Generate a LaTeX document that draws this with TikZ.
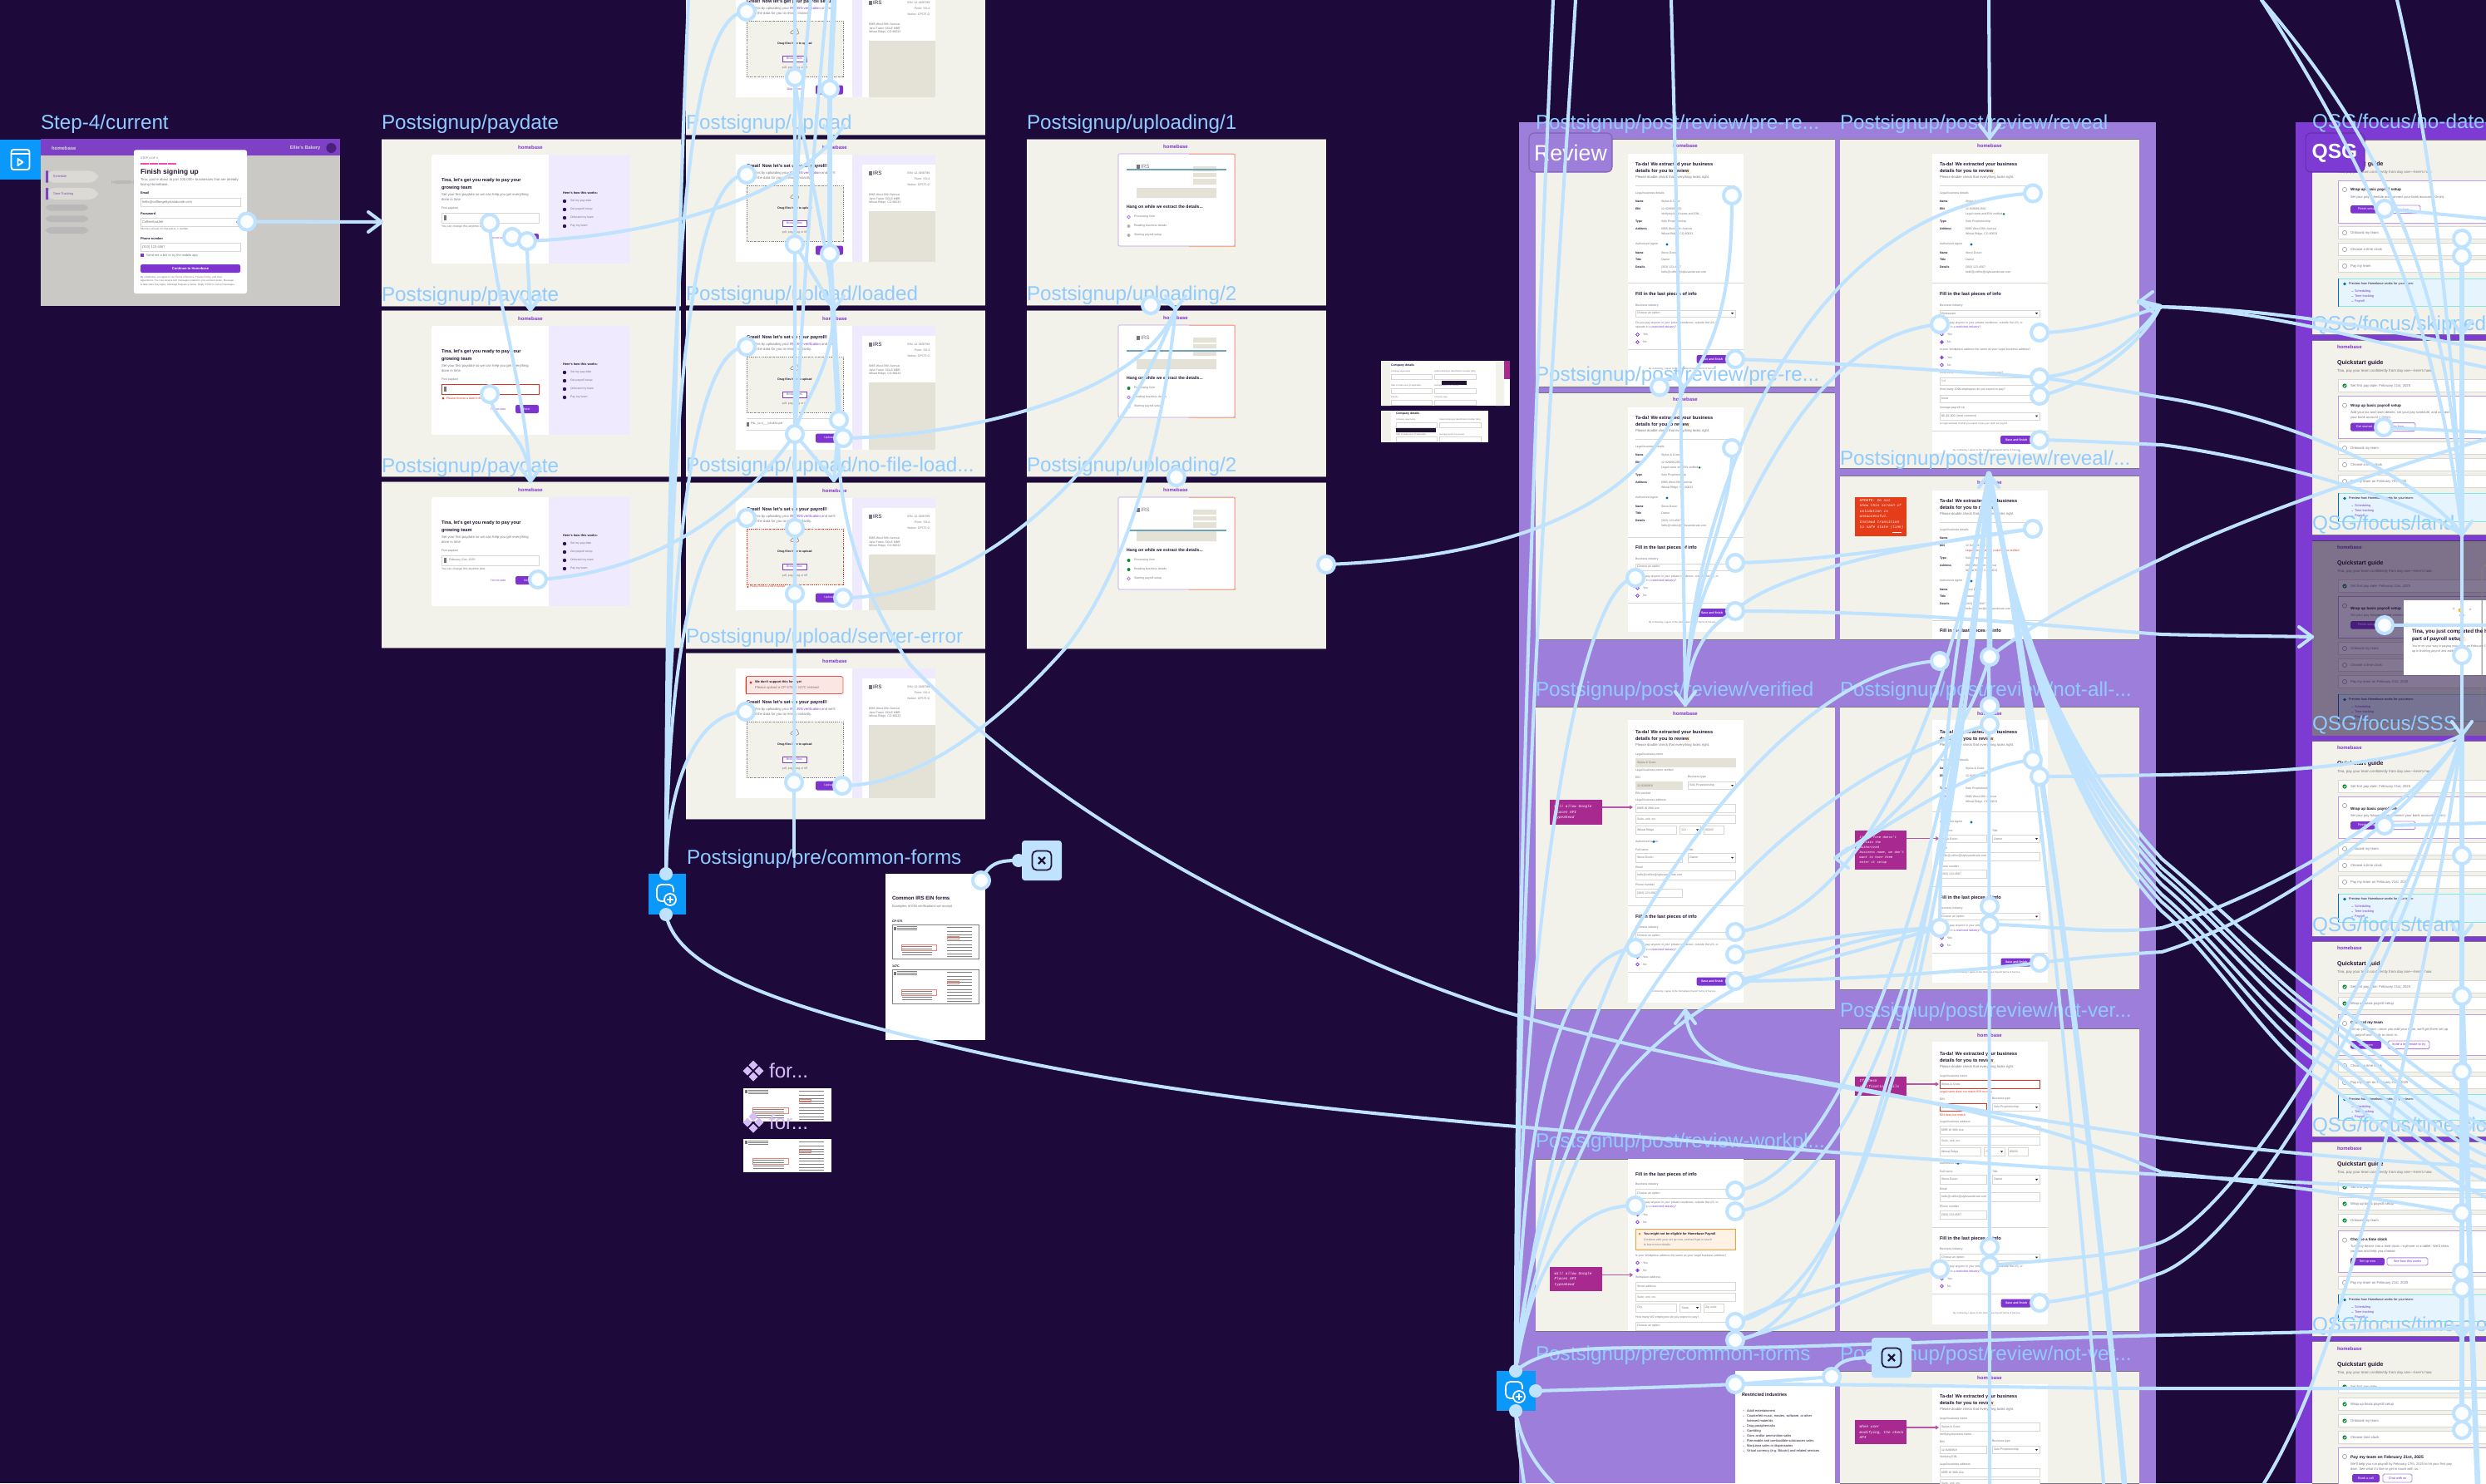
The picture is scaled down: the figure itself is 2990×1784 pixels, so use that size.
\documentclass[tikz,border=0pt]{standalone}
\usepackage{fontspec}
\setmainfont{Liberation Sans}
\newfontfamily\emofont{Noto Emoji}
\newfontfamily\hand{Liberation Mono}
\definecolor{bgd}{HTML}{1D0A3B}
\definecolor{frm}{HTML}{F2F1EA}
\definecolor{conn}{HTML}{BFE3FF}
\definecolor{lbl}{HTML}{8FCBFF}
\definecolor{rev}{HTML}{9D7EDB}
\definecolor{qsg}{HTML}{7E3BD3}
\definecolor{pur}{HTML}{7E35D0}
\definecolor{lav}{HTML}{EFEAFD}
\definecolor{tan}{HTML}{E4E2D6}
\definecolor{ink}{HTML}{221433}
\definecolor{gry}{HTML}{77747F}
\definecolor{lin}{HTML}{D8D7D2}
\definecolor{grn}{HTML}{0B8A2C}
\definecolor{redd}{HTML}{E0301E}
\definecolor{mag}{HTML}{A82A90}
\definecolor{blu}{HTML}{0A99FA}
\definecolor{lil}{HTML}{D6BDF7}
\definecolor{inf}{HTML}{E5F4FD}
\newcommand\fz[1]{\fontsize{#1pt}{#1pt}\selectfont}
\newcommand\dts{.{}.{}.}
\newcommand\fL{\fz{6.9}}
\newcommand\fH{\fz{1.6}\bfseries}
\newcommand\fB{\fz{1.2}}
\newcommand\fS{\fz{1.0}}
\newcommand\fN{\hand\itshape\fontsize{1.25pt}{1.85pt}\selectfont}
\tikzset{
  tx/.style={anchor=west,inner sep=0pt,outer sep=0pt},
  flabel/.style={anchor=west,inner sep=0pt,outer sep=0pt,text=lbl,font=\fL,yshift=-0.02cm},
  conline/.style={draw=conn,line width=1.15pt,line cap=round,line join=round},
  conthick/.style={draw=conn,line width=1.9pt,line cap=round,line join=round},
  hub/.style={circle,draw=conn,fill=white!93!conn,line width=1.15pt,minimum size=0.2cm,inner sep=0pt},
  handle/.style={circle,fill=conn,minimum size=0.16cm,inner sep=0pt},
  notearrow/.style={draw=mag!80!white,line width=0.3pt}
}
\newcommand\Tx[5]{\node[tx,text=#4,font=#3] at ({#1},{#2}) {#5};}
\newcommand\Tc[5]{\node[inner sep=0pt,text=#4,font=#3] at ({#1},{#2}) {#5};}
\newcommand\Emo[3]{\node[inner sep=0pt,text=#3!80!yellow,font=\emofont\fz{1.4}] at (#1,#2) {\char"1F4AA};}
\newcommand\Rule[3]{\draw[lin,line width=0.12pt] (#1,#3) -- (#2,#3);}
\newcommand\Fld[6]{\draw[draw=#6,fill=#5,line width=0.15pt] (#1,#2) rectangle (#3,#4);}
\newcommand\Sel[5]{\Fld{#1}{#2}{#3}{#4}{white}{lin}\Tx{#1+2}{(#2+#4)/2}{\fS}{gry}{#5}\fill[ink] ({#3-5},{(#2+#4)/2-0.8}) -- ++(3,0) -- ++(-1.5,1.8) -- cycle;}
\newcommand\Frm[4]{\fill[frm] (#1,#2) rectangle ++(#3,#4);\draw[gry,line width=0.2pt] (#1,#2) -- ++(#3,0) (#1,{#2+#4}) -- ++(#3,0);}
\newcommand\Logo[2]{\Tc{#1}{#2}{\fz{1.7}\bfseries}{pur}{homebase}}
\newcommand\Rad[3]{\draw[pur,line width=0.2pt] (122.5,#1) circle (1.9);#3\Tx{129}{#1}{\fS}{gry}{#2}}
% ---------- paydate screen
\newcommand\payscr[5]{\begin{scope}[shift={(#1,#2)}]
 \Logo{179}{10}
 \fill[white,rounded corners=0.5pt] (60,19) rectangle (299,150);
 \fill[lav] (201,19) rectangle (299,150);
 \Tx{72}{50}{\fH}{ink}{Tina, let's get you ready to pay your}
 \Tx{72}{59}{\fH}{ink}{growing team}
 \Tx{72}{67}{\fB}{gry}{Set your first paydate so we can help you get everything}
 \Tx{72}{73}{\fB}{gry}{done in time}
 \Tx{72}{84}{\fS}{gry}{First paydate}
 \Fld{72}{89}{189}{101}{white}{#3}
 \fill[gry] (75,92) rectangle (78,98);
 \Tx{81}{95}{\fS}{gry}{#4}
 #5
 \Tx{131}{119}{\fS}{pur}{I'm not sure}
 \fill[pur,rounded corners=0.6pt] (161,114) rectangle (189,124);
 \Tx{171}{119}{\fS}{white}{Next}
 \Tx{218}{65}{\fz{1.1}\bfseries}{ink}{Here's how this works:}
 \foreach \yy/\tz in {75/Set my pay date,85/Get payroll setup,95/Onboard my team,105/Pay my team}{
  \fill[bgd!80!pur] (220,\yy) circle (2.2);
  \Tx{227}{\yy}{\fS}{gry}{\tz}}
\end{scope}}
% ---------- upload screen
\newcommand\uplscr[8]{\begin{scope}[shift={(#1,#2)}]
 \begin{scope}\clip (0,0) rectangle (360,210);
 \Logo{179}{10}
 \fill[white] (60,19) rectangle (300,#4);
 \fill[lav] (200,19) rectangle (300,#4);
 \fill[white] (212,31) rectangle (300,#4);
 \fill[gry] (220,38.5) rectangle (224,43.5);
 \Tx{225}{41}{\fz{1.8}}{ink}{IRS}
 \node[anchor=east,inner sep=0,text=gry,font=\fS] at (294,41) {EIN: 12-3456789};
 \node[anchor=east,inner sep=0,text=gry,font=\fS] at (294,48) {Form: SS-4};
 \node[anchor=east,inner sep=0,text=gry,font=\fS] at (294,55) {Notice: CP575 G};
 \Tx{220}{67}{\fS}{gry}{6985 West 38th Avenue}
 \Tx{220}{72}{\fS}{gry}{Jane Foster SOLE MBR}
 \Tx{220}{77}{\fS}{gry}{Wheat Ridge, CO 80033}
 \fill[tan] (220,87) rectangle (300,#4);
 \Tx{73}{33+#3}{\fH}{ink}{#7}
 \Tx{73}{41+#3}{\fB}{gry}{Start this by uploading your {\color{pur}IRS EIN verification} and we'll}
 \Tx{73}{47+#3}{\fB}{gry}{pull all the data for you to review instantly.}
 \draw[#6,dash pattern=on 0.4pt off 0.3pt,line width=0.15pt,fill=frm] (73,{56+#3}) rectangle (189,{123+#3});
 \node[inner sep=0,text=ink,font=\emofont\fz{2.6}] at (131,{69+#3}) {\char"2601};
 \Tc{131}{84+#3}{\fz{1.0}\bfseries}{ink}{Drag files here to upload}
 \draw[pur,line width=0.2pt,fill=white] (116,{98+#3}) rectangle (145,{105+#3});
 \Tc{130.5}{101.5+#3}{\fS}{pur}{Browse files}
 \Tc{131}{113+#3}{\fS}{gry}{pdf, png, jpeg or tiff}
 \Tc{131}{#5}{\fS}{pur}{Skip for now}
 \fill[pur,rounded corners=0.6pt] (156,{#5-5.5}) rectangle (189,{#5+5.5});
 \Tc{172}{#5}{\fS}{white}{Upload}
 #8
 \end{scope}
\end{scope}}
% ---------- uploading screen
\newcommand\loadscr[4]{\begin{scope}[shift={(#1,#2)}]
 \Logo{179}{9}
 \draw[draw=pur!50!white,line width=0.17pt,fill=white,rounded corners=0.4pt] (110,18) rectangle (250,129);
 \draw[orange!35!pink,line width=0.17pt] (195,18) -- (250,18) -- (250,129) -- (195,129);
 \fill[gry] (132,31) rectangle (136,36);
 \Tx{137}{33.5}{\fz{1.8}}{gry}{IRS}
 \fill[tan] (200,33) rectangle (228,39) (200,41) rectangle (228,46) (200,48) rectangle (228,55) (132,59) rectangle (228,71);
 \draw[cyan!40!gray,line width=0.3pt] (120,#3) -- (240,#3);
 \Tx{120}{82}{\fz{1.45}\bfseries}{ink}{Hang on while we extract the details...}
 #4
 \Tx{129}{94}{\fS}{gry}{Processing form}
 \Tx{129}{105}{\fS}{gry}{Reading business details}
 \Tx{129}{116}{\fS}{gry}{Starting payroll setup}
\end{scope}}
\newcommand\Gc[1]{\fill[grn] (122.5,#1) circle (2);}
\newcommand\Rc[1]{\draw[pur!70!white,line width=0.2pt] (122.5,#1) circle (1.8);}
\newcommand\Gy[1]{\fill[gray!60] (122.5,#1) circle (2);}
% ---------- review
\newcommand\revhead{
 \Logo{180}{8.6}
 \Tx{120}{31}{\fH}{ink}{Ta-da! We extracted your business}
 \Tx{120}{39.5}{\fH}{ink}{details for you to review}
 \Emo{184}{39.5}{orange}
 \Tx{120}{46.5}{\fB}{gry}{Please double check that everything looks right.}
}
\newcommand\revdisp[2]{
 \Rule{120}{240}{56}
 \Tx{120}{65.5}{\fS}{gry}{Legal business details}
 \foreach \yy/\kk/\vv in {75.6/Name/Stylus \& Crate,84/EIN/12-9280912832,99.5/Type/Sole Proprietorship,108.6/Address/6985 West 38th Avenue,137/Name/Steve Doran,145.4/Title/Owner,154.5/Details/(303) 123-4567}{
  \Tx{120}{\yy}{\fz{1.0}\bfseries}{ink}{\kk}\Tx{151}{\yy}{\fS}{gry}{\vv}}
 \Tx{151}{90.4}{\fS}{#2}{#1}
 \Tx{151}{115}{\fS}{gry}{Wheat Ridge, CO 80033}
 \Tx{151}{161}{\fS}{gry}{hello@coffee@stylusandcrate.com}
 \Tx{120}{127}{\fS}{gry}{Authorized signer}
 \fill[blu!70!black] (158,127) circle (1.6);
 \Rule{111}{250}{173.7}
}
\newcommand\revlower[2]{\begin{scope}[yshift={#1*(-0.01cm)}]
 \Tx{120}{187.5}{\fH}{ink}{Fill in the last pieces of info}
 \Tx{120}{200.5}{\fS}{gry}{Business industry}
 \Sel{120}{206}{240}{214}{#2}
 \Tx{120}{221.5}{\fS}{gry}{Do you pay anyone in your private residence, outside the US, or}
 \Tx{120}{227}{\fS}{gry}{operate in a {\color{pur}restricted industry}?}
 \Rad{235.4}{Yes}{}
 \Rad{244.5}{No}{}
 \Rule{111}{250}{253.6}
 \fill[pur,rounded corners=0.6pt] (193.6,260) rectangle (230,270);
 \Tc{212}{265}{\fz{1.0}\bfseries}{white}{Save and finish}
 \Tx{136}{277}{\fz{0.8}}{gry}{By continuing, I agree to the Homebase Payroll Terms of Service.}
\end{scope}}
\newcommand\revedit[5]{
 \Tx{120}{57.4}{\fS}{gry}{Legal business name}
 \Fld{120}{62.5}{240}{72}{#1}{#2}\Tx{122}{67.2}{\fS}{gry}{Stylus \& Crate}
 \Tx{120}{76.6}{\fS}{#5}{#3}
 \Tx{120}{85}{\fS}{gry}{EIN}\Tx{183}{85}{\fS}{gry}{Business type}
 \Fld{120}{90}{176.5}{99.6}{#1}{#2}\Tx{122}{94.8}{\fS}{gry}{12-9280918}
 \Sel{183}{90}{240}{99.6}{Sole Proprietorship}
 \Tx{120}{104}{\fS}{#5}{#4}
 \Tx{120}{112.5}{\fS}{gry}{Legal business address}
 \Fld{120}{117.6}{240}{127}{white}{lin}\Tx{122}{122.3}{\fS}{gry}{6985 W 38th Ave}
 \Fld{120}{130}{240}{140.6}{white}{lin}\Tx{122}{135.3}{\fS}{gray}{Suite, unit, etc.}
 \Fld{120}{143}{169.5}{153.5}{white}{lin}\Tx{122}{148.2}{\fS}{gry}{Wheat Ridge}
 \Sel{173.5}{143}{198}{153.5}{CO}
 \Fld{202}{143}{226}{153.5}{white}{lin}\Tx{204}{148.2}{\fS}{gry}{80033}
 \Tx{120}{162.4}{\fS}{gry}{Authorized signer}\fill[blu!70!black] (142,162.4) circle (1.6);
 \Tx{120}{172}{\fS}{gry}{Full name}\Tx{183}{172}{\fS}{gry}{Title}
 \Fld{120}{176.5}{176}{187}{white}{lin}\Tx{122}{181.7}{\fS}{gry}{Steve Doran}
 \Sel{183}{176.5}{240}{187}{Owner}
 \Tx{120}{193}{\fS}{gry}{Email}
 \Fld{120}{197.6}{240}{207.8}{white}{lin}\Tx{122}{202.7}{\fS}{gry}{hello@coffee@stylusandcrate.com}
 \Tx{120}{214}{\fS}{gry}{Phone number}
 \Fld{120}{219}{176.5}{229.6}{white}{lin}\Tx{122}{224.3}{\fS}{gry}{(303) 123-4567}
 \Rule{111}{250}{239}
}
\newcommand\notebox[8]{%
 \fill[#5] (#1,#2) rectangle (#3,#4);
 \node[inner sep=0,align=left,anchor=west,text=white,font=\fN] at ({#1+5},{(#2+#4)/2}) {#6\\#7\\#8};
}
\newcommand\notearrowto[3]{\draw[notearrow] (#1,#3) -- (#2,#3);\draw[notearrow] ({#2-3},{#3-2}) -- (#2,#3) -- ({#2-3},{#3+2});}
% ---------- QSG
\newcommand\qhead{
 \Tx{30}{8.5}{\fz{1.7}\bfseries}{pur}{homebase}
 \Tx{30}{28}{\fz{2.0}\bfseries}{ink}{Quickstart guide}
 \Tx{30}{37.5}{\fz{1.25}}{gry}{Tina, pay your team confidently from day one---here's how:}
}
\newcommand\qrow[3]{\fill[white] (31,{#1-7.5}) rectangle (215,{#1+7.5});\draw[lin,line width=0.15pt] (31,{#1-7.5}) rectangle (215,{#1+7.5});
 \ifnum#2=1 \fill[grn] (39,#1) circle (2.6);\draw[white,line width=0.2pt] (37.8,#1) -- (38.8,{#1+1}) -- (40.4,{#1-1});\else\draw[gray!70,line width=0.2pt] (39,#1) circle (2.6);\fi
 \Tx{46}{#1}{\fz{1.2}}{gry}{#3}}
\newcommand\qbox[2]{\draw[pur!50!white,line width=0.25pt,fill=white] (31,#1) rectangle (215,#2);\draw[gray!70,line width=0.2pt] (39,{#1+11}) circle (2.6);}
\newcommand\qbtn[5]{\fill[pur,rounded corners=0.5pt] (#1,#3) rectangle (#2,#4);\Tc{(#1+#2)/2}{(#3+#4)/2}{\fz{1.1}}{white}{#5}}
\newcommand\qobtn[5]{\draw[pur!60!white,fill=white,line width=0.25pt,rounded corners=0.5pt] (#1,#3) rectangle (#2,#4);\Tc{(#1+#2)/2}{(#3+#4)/2}{\fz{1.1}}{pur}{#5}}
\newcommand\qinfo[2]{\fill[inf] (31,#1) rectangle (215,#2);\draw[lin!60!cyan,line width=0.15pt] (31,#1) rectangle (215,#2);\fill[blu!70!black] (31,#1) rectangle (32.2,#2);
 \fill[blu!70!black] (39,{#1+6.5}) circle (1.8);
 \Tx{44}{#1+6.5}{\fz{1.1}}{ink}{Preview how Homebase works for your team:}
 \Tx{51}{#1+15.5}{\fz{1.1}}{pur}{Scheduling}\Tx{51}{#1+21.5}{\fz{1.1}}{pur}{Time tracking}\Tx{51}{#1+27.5}{\fz{1.1}}{pur}{Payroll}
 \foreach \dd in {15.5,21.5,27.5}{\fill[pur] (48,{#1+\dd}) circle (0.5);}}
% ---------- thumbnails and icons
\newcommand\irsthumb[4]{\begin{scope}[shift={(#1,#2)},xscale=#3/104,yscale=#4/41]
 \fill[white] (0,0) rectangle (104,41);
 \fill[gry] (2,2) rectangle (5,6);
 \foreach \yy in {2,4,6}{\draw[gray,line width=0.07pt] (6,\yy) -- (30,\yy);}
 \foreach \yy in {3,8,12,15,19,24,27,31,35,38}{\draw[gray,line width=0.07pt] (66,\yy) -- (96,\yy);}
 \draw[redd!60!white,line width=0.12pt] (11,24) rectangle (53,31);
 \foreach \yy in {26,28.5,33,36}{\draw[gray,line width=0.07pt] (12,\yy) -- (48,\yy);}
 \draw[redd!60!white,line width=0.12pt] (66,14) rectangle (80,17);
\end{scope}}
\newcommand\compicon[2]{\begin{scope}[shift={(#1,#2)}]
 \foreach \dx/\dy in {0/-7,7/0,0/7,-7/0}{\fill[lil] (\dx,{\dy-5.5}) -- ({\dx+5.5},\dy) -- (\dx,{\dy+5.5}) -- ({\dx-5.5},\dy) -- cycle;}
\end{scope}}
\newcommand\addicon[2]{\begin{scope}[shift={(#1,#2)}]
 \draw[white,line width=0.5pt,rounded corners=1.5pt] (8,-2) -- (8,-11) -- (-12,-11) -- (-12,9) -- (-3,9);
 \draw[white,line width=0.5pt,fill=blu] (4,7) circle (7);
 \draw[white,line width=0.5pt] (0,7) -- (8,7) (4,3) -- (4,11);
\end{scope}}
\newcommand\xbox[4]{\fill[conn,rounded corners=1pt] (#1,#2) rectangle (#3,#4);
 \begin{scope}[shift={({(#1+#3)/2},{(#2+#4)/2})}]
 \draw[ink,line width=0.5pt,rounded corners=1.5pt] (-11.5,-11.5) rectangle (11.5,11.5);
 \draw[ink,line width=0.65pt] (-4,-4) -- (4,4) (-4,4) -- (4,-4);
 \end{scope}}
\newcommand\chev[2]{\begin{scope}[shift={(#1)},rotate=#2]\draw[conline] (-16,-12) -- (0,0) -- (-16,12);\end{scope}}
\begin{document}
\begin{tikzpicture}[x=0.01cm,y=-0.01cm]
\useasboundingbox (0,0) rectangle (2990,1784);
\clip (0,0) rectangle (2990,1784);
\fill[bgd] (0,0) rectangle (2990,1784);
% sections
\fill[rev] (1827,147) rectangle (2593,1784);
\fill[qsg] (2761,147) rectangle (2990,1784);
% ---- Step 4
\node[flabel] (lstep) at (49,147) {Step-4/current};
\begin{scope}[shift={(49,167)}]
 \fill[gray!35!frm] (0,0) rectangle (360,201);
 \fill[pur!85!gray] (0,0) rectangle (360,20);
 \Tx{13}{11}{\fz{1.7}\bfseries}{white!70!gray}{homebase}
 \node[anchor=east,inner sep=0,text=white!70!gray,font=\fz{1.6}\bfseries] at (337,11) {Ellie's Bakery};
 \fill[pur!60!black] (349.4,11) circle (6);
 \fill[gray!20!frm,rounded corners=3pt] (6,38.4) rectangle (69,52.6) (6,59) rectangle (69,73);
 \fill[pur!80!gray] (6,38.4) rectangle (9,52.6) (6,59) rectangle (9,73);
 \Tx{15}{45.5}{\fz{1.1}}{pur!70!gray}{Schedule}\Tx{15}{66}{\fz{1.1}}{pur!70!gray}{Time Tracking}
 \fill[gray!55,rounded corners=1.5pt] (6,79) rectangle (57,86.6) (6,92.4) rectangle (57,100) (6,106) rectangle (57,114) (85,50) rectangle (112,54);
 \fill[white,rounded corners=0.7pt] (112,13.4) rectangle (248,186);
 \Tx{120}{23}{\fS}{gry}{STEP 4 OF 4}
 \foreach \xa in {120,131,142,153}{\fill[magenta!70!white] (\xa,29) rectangle ++(10,2);}
 \Tx{120}{40.6}{\fz{2.4}\bfseries}{ink}{Finish signing up}
 \Tx{120}{49}{\fB}{gry}{Tina, you're about to join 100,000+ businesses that are already}
 \Tx{120}{55}{\fB}{gry}{loving Homebase.}
 \Tx{120}{65.6}{\fz{1.1}\bfseries}{ink}{Email}
 \Fld{120}{71}{240}{81}{white}{lin}\Tx{122}{76}{\fz{1.15}}{gry}{hello@coffeegettystandcrate.com}
 \Tx{120}{89.7}{\fz{1.1}\bfseries}{ink}{Password}
 \Fld{120}{95}{240}{105}{white}{lin}\Tx{122}{100}{\fz{1.15}}{gry}{CoffeeAndJelt}
 \fill[pur] (237,100) circle (1.8);
 \Tx{120}{109}{\fz{0.9}}{gry}{Must be at least 10 characters, 1 number}
 \Tx{120}{120}{\fz{1.1}\bfseries}{ink}{Phone number}
 \Fld{120}{125}{240}{135}{white}{lin}\Tx{122}{130}{\fz{1.15}}{gry}{(303) 123-4567}
 \fill[pur] (120,138) rectangle (124,142);
 \Tx{127}{140}{\fz{1.1}}{gry}{Send me a link to try the mobile app}
 \fill[pur,rounded corners=0.6pt] (120,151) rectangle (240,161);
 \Tc{180}{156}{\fz{1.15}\bfseries}{white}{Continue to Homebase}
 \Tx{120}{166.5}{\fz{0.85}}{gry}{By continuing, you agree to our Terms of Service, Privacy Policy, and User}
 \Tx{120}{171}{\fz{0.85}}{gry}{Agreement. You may receive text messages related to your account setup. Message}
 \Tx{120}{175.5}{\fz{0.85}}{gry}{\& data rates may apply. Message frequency varies. Reply STOP to cancel messages.}
\end{scope}
% ---- paydate
\Frm{459}{167}{360}{201}\Frm{459}{373}{360}{200}\Frm{459}{579}{360}{200}
\payscr{459}{167}{lin}{}{\Tx{72}{106}{\fS}{gry}{You can change this anytime later.}}
\payscr{459}{373}{redd}{}{\fill[redd] (74,106) circle (1.5);\Tx{78}{106}{\fS}{redd}{Please choose a date in the future}}
\payscr{459}{579}{lin}{February 21st, 2025}{\Tx{72}{106}{\fS}{gry}{You can change this anytime later.}}
% ---- upload
\Frm{825}{-38}{360}{200}\Frm{825}{167}{360}{200}\Frm{825}{373}{360}{200}\Frm{825}{580}{360}{200}\Frm{825}{785}{360}{200}
\uplscr{825}{-38}{7}{155}{146}{gray}{Great! Now let's get your payroll set up.}{}
\uplscr{825}{167}{0}{148}{134}{gray}{Great! Now let's set up your payroll!}{}
\uplscr{825}{373}{0}{168}{154}{gray}{Great! Now let's set up your payroll!}{\fill[gry] (73,134.5) rectangle (76,139.5);\Tx{78}{137}{\fS}{gry}{PdL\_ss-4\_\_\_b4d484.pdf}\Rule{73}{189}{130}\Rule{73}{189}{144}}
\uplscr{825}{580}{0}{154}{139}{redd}{Great! Now let's set up your payroll!}{\fill[redd] (74.5,126) circle (1.2);\Tx{77}{126}{\fz{0.9}}{redd}{Please choose a file to upload}}
\uplscr{825}{785}{27}{175}{160}{gray}{Great! Now let's set up your payroll!}{
 \draw[redd!80!white,fill=redd!12!white,line width=0.2pt,rounded corners=0.5pt] (72,28.5) rectangle (189,49.5);
 \fill[redd] (72,28.5) rectangle (73,49.5);\fill[redd] (78,36) circle (1.6);
 \Tx{83}{35.5}{\fz{1.1}\bfseries}{ink}{We don't support this form yet}
 \Tx{83}{42.5}{\fB}{gry}{Please upload a CP-575 or 147C instead}}
% ---- uploading
\Frm{1235}{167}{360}{200}\Frm{1235}{373}{360}{200}\Frm{1235}{580}{360}{200}
\loadscr{1235}{167}{37}{\Rc{94}\Gy{105}\Gy{116}}
\loadscr{1235}{373}{49}{\Gc{94}\Rc{105}\Gy{116}}
\loadscr{1235}{580}{58}{\Gc{94}\Gc{105}\Rc{116}}
% ---- common forms
\fill[white] (1065,1051) rectangle (1185,1251);
\begin{scope}[shift={(1065,1051)}]
 \Tx{8}{29}{\fz{1.75}\bfseries}{ink}{Common IRS EIN forms}
 \Tx{8}{39}{\fz{1.15}}{gry}{Examples of EIN verifications we accept}
 \Tx{8}{57}{\fz{1.05}\bfseries}{ink}{CP-575}
 \irsthumb{8}{61.6}{104}{41}\draw[gray,line width=0.15pt] (8,61.6) rectangle (112,102.6);
 \Tx{8}{111}{\fz{1.05}\bfseries}{ink}{147C}
 \irsthumb{8}{115.6}{104}{41}\draw[gray,line width=0.15pt] (8,115.6) rectangle (112,156.6);
\end{scope}
% ---- for...
\irsthumb{894}{1309}{105.5}{40}\irsthumb{894}{1370}{105.5}{40}
\compicon{906}{1288}\compicon{906}{1350}
\node[tx,text=lil,font=\fL] (lfora) at (925,1288) {for...};
\node[tx,text=lil,font=\fL] (lforb) at (925,1350) {for...};
% ---- small thumbs
\fill[white] (1661,434) rectangle (1816,488);\fill[frm] (1662,435) rectangle (1672,488) (1799,435) rectangle (1809,488);
\fill[mag] (1809,434) rectangle (1816,456);
\fill[white] (1661,494) rectangle (1790,532);\fill[frm] (1662,495) rectangle (1673,532);
\Tx{1673}{440}{\fz{1.0}\bfseries}{ink}{Company details}
\Tx{1673}{447}{\fz{0.7}}{gry}{Company legal name}\Tx{1725}{447}{\fz{0.7}}{gry}{Federal Employer Identification Number (EIN)}
\Fld{1673}{450}{1722}{456}{white}{lin}\Fld{1725}{450}{1775}{456}{white}{lin}
\fill[ink] (1734,458) rectangle (1764,463);
\Tx{1673}{464}{\fz{0.7}}{gry}{DBA or trade name (if applicable)}\Tx{1725}{464}{\fz{0.7}}{gry}{Average payroll run amount}
\Fld{1673}{467}{1722}{473}{white}{lin}\Fld{1725}{467}{1775}{473}{white}{lin}
\Tx{1673}{478}{\fz{0.7}}{gry}{Industry}\Tx{1725}{478}{\fz{0.7}}{gry}{Company type}
\Fld{1673}{481}{1722}{487}{white}{lin}\Fld{1725}{481}{1775}{487}{white}{lin}
\Tx{1679}{498}{\fz{1.0}\bfseries}{ink}{Company details}
\Tx{1679}{505}{\fz{0.7}}{gry}{Company legal name}\Tx{1731}{505}{\fz{0.7}}{gry}{Federal Employer Identification Number (EIN)}
\Fld{1679}{508}{1728}{514}{white}{lin}\Fld{1731}{508}{1781}{514}{white}{lin}
\fill[ink] (1679,515) rectangle (1727,520);
\Tx{1679}{523}{\fz{0.7}}{gry}{DBA or trade name (if applicable)}\Tx{1731}{523}{\fz{0.7}}{gry}{Average payroll run amount}
\Fld{1679}{525}{1728}{531}{white}{lin}\Fld{1731}{525}{1781}{531}{white}{lin}
% ---- Review frames
\Frm{1847}{167}{360}{298}\Frm{1847}{472}{360}{297}\Frm{2213}{167}{360}{396}\Frm{2213}{572}{360}{197}
\Frm{1847}{850}{360}{364}\Frm{2213}{850}{360}{340}\Frm{2213}{1237}{360}{364}\Frm{1847}{1394}{360}{207}\Frm{2213}{1649}{360}{135}
\begin{scope}[shift={(1847,167)}]\begin{scope}\clip (0,0) rectangle (360,298);
 \fill[white] (111,18) rectangle (250,298);\revhead
 \revdisp{Verifying legal name and EIN...}{gry}\revlower{0}{Choose an option}\end{scope}\end{scope}
\begin{scope}[shift={(1847,472)}]\fill[white] (111,18) rectangle (250,288);\revhead
 \revdisp{Legal name and EIN verified}{gry}\revlower{0}{Choose an option}\fill[grn] (197,90.4) circle (1.4);\end{scope}
\begin{scope}[shift={(2213,167)}]\fill[white] (111,18) rectangle (250,378);\revhead
 \revdisp{Legal name and EIN verified}{gry}\fill[grn] (197,90.4) circle (1.4);
 \Tx{120}{187.5}{\fH}{ink}{Fill in the last pieces of info}
 \Tx{120}{200.5}{\fS}{gry}{Business industry}\Sel{120}{206}{240}{214}{Restaurant}
 \Tx{120}{221.5}{\fS}{gry}{Do you pay anyone in your private residence, outside the US, or}
 \Tx{120}{227}{\fS}{gry}{operate in a {\color{pur}restricted industry}?}
 \Rad{235}{Yes}{}\Rad{244.5}{No}{\fill[pur] (122.5,244.5) circle (1.1);}
 \Tx{120}{254}{\fS}{gry}{Is your Workplace address the same as your Legal business address?}
 \Rad{263}{Yes}{\fill[pur] (122.5,263) circle (1.1);}\Rad{272}{No}{}
 \Tx{120}{281.8}{\fS}{gry}{How many W2 employees do you expect to pay?}
 \Fld{120}{287}{240}{296}{white}{lin}\Tx{122}{291.5}{\fS}{gry}{1-4}
 \Tx{120}{302}{\fS}{gry}{How many 1099 employees do you expect to pay?}
 \Fld{120}{308}{240}{317}{white}{lin}\Tx{122}{312.5}{\fS}{gry}{None}
 \Tx{120}{324}{\fS}{gry}{Average payroll run}\Sel{120}{329}{240}{338}{\$0--\$1,000 (most common)}
 \Tx{120}{343}{\fz{0.8}}{gry}{A rough estimate of what you expect to pay your team per payroll}
 \Rule{111}{250}{351}
 \fill[pur,rounded corners=0.6pt] (193,357) rectangle (230,367);\Tc{212}{362}{\fz{1.0}\bfseries}{white}{Save and finish}
 \Tx{136}{375}{\fz{0.8}}{gry}{By continuing, I agree to the Homebase Payroll Terms of Service.}
\end{scope}
\begin{scope}[shift={(2213,572)}]\begin{scope}\clip (0,0) rectangle (360,197);
 \fill[white] (111,18) rectangle (250,197);\revhead
 \revdisp{Legal name and EIN could not be verified}{redd}\revlower{0}{Choose an option}\end{scope}\end{scope}
\begin{scope}[shift={(1847,850)}]\fill[white] (111,16.4) rectangle (250,355.7);\revhead
 \revedit{tan}{tan}{Legal business name verified}{EIN verified}{gry}\revlower{65.5}{Choose an option}\end{scope}
\begin{scope}[shift={(2213,850)}]\fill[white] (111,16.4) rectangle (250,332);\revhead
 \Tx{120}{64.4}{\fS}{gry}{Legal business details}
 \foreach \yy/\kk/\vv in {74.7/Name/Stylus \& Crate,83.6/EIN/12-9280912832,99/Type/Sole Proprietorship,108/Address/6985 West 38th Avenue}{\Tx{120}{\yy}{\fz{1.0}\bfseries}{ink}{\kk}\Tx{151}{\yy}{\fS}{gry}{\vv}}
 \Tx{151}{114.6}{\fS}{gry}{Wheat Ridge, CO 80033}\Rule{111}{250}{126.5}
 \Tx{120}{139}{\fS}{gry}{Authorized signer}\fill[blu!70!black] (158,139) circle (1.6);
 \Tx{120}{149}{\fS}{gry}{Full name}\Tx{183}{149}{\fS}{gry}{Title}
 \Fld{120}{154}{176}{163.7}{white}{lin}\Tx{122}{158.8}{\fS}{gry}{Steve Doran}\Sel{183}{154}{240}{163.7}{Owner}
 \Tx{120}{170}{\fS}{gry}{Email}\Fld{120}{175}{240}{185}{white}{lin}\Tx{122}{180}{\fS}{gry}{hello@coffee@stylusandcrate.com}
 \Tx{120}{192}{\fS}{gry}{Phone number}\Fld{120}{196.6}{176}{206.6}{white}{lin}\Tx{122}{201.6}{\fS}{gry}{(303) 123-4567}
 \Rule{111}{250}{216}\revlower{42.5}{Choose an option}\end{scope}
\begin{scope}[shift={(2213,1237)}]\fill[white] (111,16.4) rectangle (250,355.7);\revhead
 \revedit{white}{redd}{Legal name does not match IRS records}{EIN does not match}{redd}\revlower{65.5}{Choose an option}\end{scope}
\begin{scope}[shift={(1847,1394)}]\begin{scope}\clip (0,0) rectangle (360,207);\fill[white] (111,0) rectangle (250,207);
 \Tx{120}{19}{\fH}{ink}{Fill in the last pieces of info}
 \Tx{120}{31}{\fS}{gry}{Business industry}\Sel{120}{36}{240}{47}{Choose an option}
 \Tx{120}{53}{\fS}{gry}{Do you pay anyone in your private residence, outside the US, or}
 \Tx{120}{58}{\fS}{gry}{operate in a {\color{pur}restricted industry}?}
 \Rad{67}{Yes}{\fill[pur] (122.5,67) circle (1.1);}\Rad{76}{No}{}
 \draw[orange!80!white,fill=orange!10!white,line width=0.2pt] (120,84) rectangle (240,109.5);
 \fill[orange] (125,90) circle (1.5);
 \Tx{130}{90}{\fz{1.1}\bfseries}{ink}{You might not be eligible for Homebase Payroll}
 \Tx{130}{97.6}{\fS}{gry}{Continue with your set up now, and we'll get in touch}
 \Tx{130}{103}{\fS}{gry}{to learn more details.}
 \Tx{120}{116.5}{\fS}{gry}{Is your Workplace address the same as your Legal business address?}
 \Rad{125}{Yes}{}\Rad{134}{No}{\fill[pur] (122.5,134) circle (1.1);}
 \Tx{120}{143}{\fS}{gry}{Workplace address}
 \Fld{120}{148}{240}{158}{white}{lin}\Tx{122}{153}{\fS}{gray}{Street address}
 \Fld{120}{161}{240}{171}{white}{lin}\Tx{122}{166}{\fS}{gray}{Suite, unit, etc.}
 \Fld{120}{174}{169.5}{184}{white}{lin}\Tx{122}{179}{\fS}{gray}{City}\Sel{173.5}{174}{198}{184}{State}
 \Fld{202}{174}{226}{184}{white}{lin}\Tx{204}{179}{\fS}{gray}{Zip code}
 \Tx{120}{191}{\fS}{gry}{How many W2 employees do you expect to pay?}\Sel{120}{196}{240}{206}{Choose an option}
\end{scope}\end{scope}
\begin{scope}[shift={(2213,1649)}]\begin{scope}\clip (0,0) rectangle (360,135);\fill[white] (111,16.4) rectangle (250,135);\revhead
 \revedit{white}{lin}{Verifying business name...}{Verifying EIN...}{gry}\end{scope}\end{scope}
% restricted
\fill[white] (2087,1649) rectangle (2207,1784);
\begin{scope}[shift={(2087,1649)}]
 \Tx{8}{28.6}{\fz{1.55}\bfseries}{ink}{Restricted industries}
 \foreach \yy/\tz in {47.8/{Adult entertainment},54/{Counterfeit music, movies, software, or other},66.3/{Drug paraphernalia},72/{Gambling},78/{Guns and/or ammunition sales},84/{Flammable and combustible substances sales},90/{Marijuana sales or dispensaries},96/{Virtual currency (e.g. Bitcoin) and related services}}{
  \fill[ink] (10,\yy) circle (0.5);\Tx{14}{\yy}{\fz{1.12}}{ink}{\tz}}
 \Tx{14}{60}{\fz{1.12}}{ink}{licensed materials}
\end{scope}
% notes
\notebox{1864}{962}{1927}{992}{mag}{Will allow Google}{Places API}{typeahead}\notearrowto{1927}{1963}{971}
\notebox{1864}{1524}{1927}{1553}{mag}{Will allow Google}{Places API}{typeahead}\notearrowto{1927}{1963}{1533.5}
\fill[mag] (2231,999) rectangle (2293,1046);
\node[inner sep=0,align=left,anchor=west,text=white,font=\hand\itshape\fontsize{1.1pt}{1.75pt}\selectfont] (nb3) at (2236,1022.5) {If the form doesn't\\contain the\\Authorized\\business name, we don't\\want to have them\\enter it setup};
\notearrowto{2293}{2331}{1008.5}
\notebox{2231}{1295}{2293}{1318}{mag}{If check}{verification fails}{}\notearrowto{2293}{2331}{1304}
\notebox{2231}{1708}{2293}{1737}{mag}{When user}{modifying, the check}{API}\notearrowto{2293}{2331}{1717}
\fill[redd!85!orange] (2231,598) rectangle (2293,645);
\node[inner sep=0,align=left,anchor=west,text=white,font=\fN] (nb2) at (2236,621.5) {UPDATE: Do not\\show this screen if\\validation is\\unsuccessful.\\Instead transition\\to safe state (\underline{link})};
% ---- QSG frames
\begin{scope}\clip (2781,0) rectangle (2990,1784);
\Frm{2781}{168}{209}{234}\Frm{2781}{409}{209}{234}\Frm{2781}{650}{209}{234}\Frm{2781}{891}{209}{235}\Frm{2781}{1132}{209}{235}\Frm{2781}{1373}{209}{234}\Frm{2781}{1613}{209}{171}
\begin{scope}[shift={(2781,168)}]\Tx{30}{30}{\fz{2.0}\bfseries}{ink}{Quickstart guide}\Tx{30}{39}{\fz{1.25}}{gry}{Tina, pay your team confidently from day one---here's how:}
 \qbox{49}{100}\Tx{46}{60}{\fz{1.3}\bfseries}{ink}{Wrap up basic payroll setup}\Tx{46}{69}{\fz{1.15}}{gry}{Set your pay schedule and connect your bank account (\textasciitilde 2min).}
 \qbtn{46}{85}{79}{88.6}{Finish setup}\qobtn{87}{130}{79}{88.6}{See how}
 \qrow{112}{0}{Onboard my team}\qrow{132}{0}{Choose a time clock}\qrow{152}{0}{Pay my team}\qinfo{167}{200.5}\end{scope}
\begin{scope}[shift={(2781,409)}]\qhead\qrow{55}{1}{Set first pay date: February 21st, 2025}
 \qbox{67.6}{118}\Tx{46}{79}{\fz{1.3}\bfseries}{ink}{Wrap up basic payroll setup}\Tx{46}{87}{\fz{1.15}}{gry}{Add your tax and team details, set your pay schedule, and connect}\Tx{46}{93}{\fz{1.15}}{gry}{your bank account (\textasciitilde 2min).}
 \qbtn{46}{79}{99.6}{109.6}{Get started}\qobtn{81}{124}{99.6}{109.6}{See how}
 \qrow{130}{0}{Onboard my team}\qrow{150}{0}{Choose a time clock}\qrow{170}{0}{Pay my team on February 7th, 2025}\qinfo{184}{218}\end{scope}
\begin{scope}[shift={(2781,650)}]\qhead\qrow{55}{1}{Set first pay date: February 21st, 2025}
 \qbox{67.6}{117.5}\Tx{46}{82}{\fz{1.3}\bfseries}{ink}{Wrap up basic payroll setup}\Tx{46}{90.5}{\fz{1.15}}{gry}{Set your pay frequency and connect your bank account (\textasciitilde 2min).}
 \qbtn{46}{85}{97}{106.6}{Finish setup}
 \qrow{130}{0}{Onboard my team}\qrow{150}{0}{Choose a time clock}\qrow{170}{0}{Pay my team on February 21st, 2025}\qinfo{185}{217}
 \fill[bgd,opacity=0.55] (0,0) rectangle (209,234);
 \fill[white] (110,72) rectangle (209,162);
 \draw[gray,line width=0.3pt,rounded corners=2pt] (206,30) -- (204,30) -- (204,200);
 \Tx{120}{110}{\fz{1.8}\bfseries}{ink}{Tina, you just completed the hardest}
 \Tx{120}{119}{\fz{1.8}\bfseries}{ink}{part of payroll setup}\Emo{183}{119}{orange}
 \Tx{120}{128}{\fz{1.05}}{gry}{You're on your way to paying your team on February 21st. Pete}
 \Tx{120}{134}{\fz{1.05}}{gry}{up is finishing payroll and adding your team.}
 \fill[pur] (180,90) circle (2.5);\fill[orange!50!yellow] (178,84) circle (2.5);\fill[gray!40] (170,82) circle (1.5) (190,83) circle (1.5);
 \end{scope}
\begin{scope}[shift={(2781,891)}]\qhead\qrow{55}{1}{Set first pay date: February 21st, 2025}
 \qbox{67}{117}\Tx{46}{82}{\fz{1.3}\bfseries}{ink}{Wrap up basic payroll setup}\Tx{46}{90}{\fz{1.15}}{gry}{Set your pay frequency and connect your bank account (\textasciitilde 2min).}
 \qbtn{46}{85}{97}{106.6}{Finish setup}\qobtn{87}{124}{97}{106.6}{See how}
 \qrow{130}{0}{Onboard my team}\qrow{150}{0}{Choose a time clock}\qrow{170}{0}{Pay my team on February 21st, 2025}\qinfo{184}{218}\end{scope}
\begin{scope}[shift={(2781,1132)}]\qhead\qrow{55}{1}{Set first pay date: February 21st, 2025}\qrow{75}{1}{Wrap up basic payroll setup}
 \qbox{88}{137}\Tx{46}{98.4}{\fz{1.3}\bfseries}{ink}{Onboard my team}\Tx{46}{106.5}{\fz{1.15}}{gry}{Set up your team---once you add your team, we'll get them set up}\Tx{46}{113}{\fz{1.15}}{gry}{for payroll and ready to clock in.}
 \qbtn{46}{83}{120}{129.6}{Add team}\qobtn{91}{141}{120}{129.6}{Invite a teammate to try}
 \qrow{150}{0}{Choose a time clock}\qrow{170}{0}{Pay my team on February 21st, 2025}\qinfo{184}{215}\end{scope}
\begin{scope}[shift={(2781,1373)}]\qhead\qrow{55}{1}{Set first pay date: February 21st, 2025}\qrow{75}{1}{Wrap up basic payroll setup}\qrow{95}{1}{Onboard my team}
 \qbox{107.6}{157}\Tx{46}{118}{\fz{1.3}\bfseries}{ink}{Choose a time clock}\Tx{46}{126}{\fz{1.15}}{gry}{Turn any device into a time clock---a phone or a tablet. We'll show}\Tx{46}{132}{\fz{1.15}}{gry}{you how and help you choose.}
 \qbtn{46}{87}{139.8}{149}{Set up now}\qobtn{90}{139}{139.8}{149}{See how this works}
 \qrow{170}{0}{Pay my team on February 21st, 2025}\qinfo{184}{216}\end{scope}
\begin{scope}[shift={(2781,1613)}]\Tx{30}{9}{\fz{1.7}\bfseries}{pur}{homebase}\Tx{30}{29}{\fz{2.0}\bfseries}{ink}{Quickstart guide}\Tx{30}{38}{\fz{1.25}}{gry}{Tina, pay your team confidently from day one---here's how:}
 \qrow{55}{1}{Set first pay date}\qrow{76}{1}{Wrap up basic payroll setup}\qrow{96}{1}{Onboard my team}\qrow{116}{1}{Choose time clock}
 \qbox{128}{190}\Tx{46}{140}{\fz{1.45}\bfseries}{ink}{Pay my team on February 21st, 2025}\Tx{46}{148}{\fz{1.15}}{gry}{We'll help you run payroll by February 17th, 2025 to hit your first pay}\Tx{46}{154}{\fz{1.15}}{gry}{date. See what it's like or get in touch with us.}
 \qbtn{48}{81}{160}{170}{Book a call}\qobtn{85}{120}{160}{170}{Chat with us}\end{scope}
\end{scope}
% ---- frame labels
\foreach \nm/\xx/\yy/\tz in {
 a/459/147/Postsignup\slash paydate,b/459/354/Postsignup\slash paydate,c/459/560/Postsignup\slash paydate,
 d/825/147/Postsignup\slash upload,e/825/353/Postsignup\slash upload\slash loaded,f/825/559/Postsignup\slash upload\slash no-file-load\dts,g/825/765/Postsignup\slash upload\slash server-error,h/826/1031/Postsignup\slash pre\slash common-forms,
 i/1235/147/Postsignup\slash uploading\slash 1,j/1235/353/Postsignup\slash uploading\slash 2,k/1235/559/Postsignup\slash uploading\slash 2,
 l/1847/147/Postsignup\slash post\slash review\slash pre-re\dts,m/2213/147/Postsignup\slash post\slash review\slash reveal,n/1847/450/Postsignup\slash post\slash review\slash pre-re\dts,o/2213/551/Postsignup\slash post\slash review\slash reveal\slash \dts,
 p/1847/829/Postsignup\slash post\slash review\slash verified,q/2213/829/Postsignup\slash post\slash review\slash not-all-\dts,r/2213/1215/Postsignup\slash post\slash review\slash not-ver\dts,s/1847/1372/Postsignup\slash post\slash review-workpl\dts,t/1847/1628/Postsignup\slash pre\slash common-forms,u/2213/1628/Postsignup\slash post\slash review\slash not-ver\dts,
 v/2781/146/QSG\slash focus\slash no-date-\dts,w/2781/389/QSG\slash focus\slash skipped-\dts,x/2781/629/QSG\slash focus\slash land,y/2781/870/QSG\slash focus\slash SSS,z/2781/1112/QSG\slash focus\slash team,aa/2781/1353/QSG\slash focus\slash time-clo\dts,ab/2781/1593/QSG\slash focus\slash time-clo\dts}
 {\node[flabel] (lab\nm) at (\xx,\yy) {\tz};}
% badges
\draw[rev!80!black,fill=rev,line width=0.3pt,rounded corners=1.8pt] (1839,160) rectangle (1939,207);
\node[text=white,font=\fz{7.6}] (brev) at (1889,184) {Review};
\draw[qsg!80!black,fill=qsg,line width=0.3pt,rounded corners=1.8pt] (2773,160) rectangle (2844,207);
\node[text=white,font=\fz{7.0}\bfseries] (bqsg) at (2808,184) {QSG};
% ---- hub coordinates
\coordinate (h2t) at (801,1051);\coordinate (h2b) at (801,1100);
\coordinate (h3t) at (1823,1649);\coordinate (h3b) at (1823,1697);\coordinate (h3r) at (1847,1673);
\coordinate (xd2) at (1225,1035);\coordinate (xd3) at (2251,1633);\coordinate (jn) at (2598,369);
\foreach \nn/\xx/\yy in {
 s1/297/266.5,pa/589/268,pb/616/285,pc/634/290,pd/589/474,pe/647/697,
 ua/898/14,ub/956/93,uc/998/107,ud/898/210,ue/956/294,uf/998/305,ug/898/417,uh/956/522,ui/1009/505,uj/1014/527,uk/898/623,ul/956/635,um/956/714,un/1014/719,uo/897/856,up/955/941,uq/1013/945,
 la/1384/367,lb/1415/574,lc/1595/679,cf/1180/1059,
 ra/2083/235,rb/2087/432,rc/1996/465.6,rd/2083/539,re/1967/695,rf/2087/677,rg/2087/735,
 sa/2445/232.5,sb/2333/390,sc/2453/400,sd/2453/454,se/2453/476,sf/2453/529,sg/2445/636,sh/2333/795,si/2393/790,
 ta/2393/849,tb/2393/871.5,tc/2445/914,td/2453/934,te/2393/1090,tf/2393/1112,tg/2333/1116,th/2453/1158,
 va/2087/1121,vb/2087/1148,vc/2087/1180,vd/1967/1140,
 wa/2087/1432,wb/2087/1457,wc/1967/1450,wd/2087/1590,we/2087/1612,
 xa/2393/1500,xb/2393/1522,xc/2333/1526.5,xd/2453/1567,ya/2203/1656,yb/2087/1665,
 qa/2868/251,qb/2961/287,qc/2961/308,qd/2867/514,qe/2868/752,qf/2961/788,qg/2868/993,qh/2961/1029,qi/2961/1198,qj/2961/1289,qk/2961/1459,ql/2961/1530,qm/2961/1550,qn/2961/1700,qo/2961/1720,
 kp/459/267,kq/638/373,kr/638/579,ks/1003/167,kt/1003/372,ku/1003/578,kv/1414/372,
 kw/2025/466,kx/2393/166,ky/2392/570,kz/2027/848,ma/2027/1215,mb/2573/363,mc/2207/1032,
 md/2961/402,me/2961/643,mf/2961/884,mg/2961/1128,mh/2961/1370,mi/2961/1609,mj/2781/766}
 {\coordinate (\nn) at (\xx,\yy);}
% free ends
\foreach \nn/\xx/\yy in {fa/828/0,fb/956/0,fc/975/0,fd/995/0,fe/1003/0,ff/1868/0,fg/1895/0,fh/2010/0,fi/2392/0,fj/2720/0,fk/2883/0,
 ga/2990/1432,gb/2990/1403,gc/2990/420,gd/2990/442,ge/2990/528,gf/2990/263,gg/2990/520,gh/2990/752,gi/2990/990,gj/2990/1597,gk/2990/1670,gl/2723/1784,gm/2980/1784,gn/1833/1784,go/1868/1784,gp/2393/1784,gq/2530/1784,gr/2555/1784,gt/955/1030}
 {\coordinate (\nn) at (\xx,\yy);}
% ---- connectors
\draw[conline] (s1) -- (kp);
\draw[conline] (pa) .. controls (592,340) and (632,470) .. (kr);
\draw[conline] (pc) .. controls (634,320) and (637,350) .. (kq);
\draw[conline] (pb) -- (pc);
\draw[conline] (pc) .. controls (760,285) and (930,250) .. (ks);
\draw[conline] (pd) .. controls (592,510) and (635,520) .. (kr);
\draw[conline] (pe) .. controls (770,690) and (880,630) .. (uh);
\draw[conline] (uh) -- (ku);
\draw[conline] (ui) -- (ku);
% left fan from handle 2
\foreach \tg/\ca/\cx/\cy in {uo/950/835/856,uk/850/825/623,ug/750/825/417,ud/600/820/210,ua/400/820/14}{
 \draw[conline] (h2t) .. controls (802,\ca) and (\cx,\cy) .. (\tg);}
\draw[conline] (h2t) .. controls (806,700) and (815,300) .. (fa);
\draw[conline] (fb) -- (ub) -- (ue) -- (uh) -- (ul) -- (um) -- (up);
\draw[conline] (up) -- (gt);
\draw[conline] (ub) .. controls (963,170) and (990,260) .. (kt);
\draw[conline] (ue) -- (kt);
\draw[conline] (fc) .. controls (965,100) and (958,200) .. (ue);
\draw[conline] (fd) .. controls (975,200) and (965,400) .. (uh);
\draw[conthick] (fe) -- (uc);
\draw[conthick] (uc) -- (uf);
\draw[conthick] (uf) -- (ui);
\draw[conline] (uf) -- (kt);
\draw[conline] (kt) .. controls (1000,450) and (965,480) .. (uh);
\draw[conline] (uj) .. controls (1150,525) and (1370,480) .. (kv);
\draw[conline] (un) .. controls (1130,720) and (1320,620) .. (kv);
\draw[conline] (uq) .. controls (1110,945) and (1210,860) .. (1281,780) .. controls (1345,700) and (1395,560) .. (kv);
\draw[conline] (la) .. controls (1395,360) and (1405,362) .. (kv);
% long lines
\draw[conline] (h2b) .. controls (815,1170) and (950,1215) .. (1181,1267) .. controls (1400,1315) and (1600,1335) .. (1800,1353) .. controls (2000,1370) and (2300,1395) .. (2600,1413) .. controls (2750,1422) and (2880,1428) .. (ga);
\draw[conline] (ui) .. controls (1003,620) and (1040,720) .. (1095,800) .. controls (1250,960) and (1450,1070) .. (1630,1148) .. controls (1700,1180) and (1760,1200) .. (1800,1214) .. controls (2000,1275) and (2300,1325) .. (2600,1369) .. controls (2750,1388) and (2880,1398) .. (gb);
\draw[conline] (ma) .. controls (2030,1262) and (2060,1285) .. (2160,1295) .. controls (2300,1322) and (2450,1345) .. (2600,1410) .. controls (2750,1425) and (2880,1445) .. (qk);
\draw[conline] (lc) .. controls (1700,675) and (1780,660) .. (1846,636) .. controls (1920,608) and (2000,560) .. (kw);
\draw[conline] (cf) .. controls (1190,1036) and (1205,1035) .. (xd2);
% review
\draw[conline] (fh) .. controls (2018,300) and (2024,600) .. (kz);
\draw[conline] (fi) -- (kx);
\draw[conline] (ra) .. controls (2083,300) and (2080,400) .. (kw);
\draw[conline] (rc) .. controls (2005,450) and (2015,452) .. (kw);
\draw[conline] (rb) .. controls (2200,436) and (2330,445) .. (sd) .. controls (2500,460) and (2550,470) .. (2600,478) .. controls (2680,490) and (2880,540) .. (me);
\draw[conline] (rg) .. controls (2050,755) and (2030,790) .. (kz);
\draw[conline] (rd) .. controls (2085,620) and (2030,700) .. (kz);
\draw[conline] (sa) .. controls (2300,240) and (2180,340) .. (2100,520) .. controls (2060,620) and (2030,720) .. (kz);
\draw[conline] (sb) .. controls (2230,400) and (2160,490) .. (2100,610) .. controls (2060,690) and (2030,730) .. (kz);
\draw[conline] (rf) .. controls (2200,675) and (2350,650) .. (sg);
\draw[conline] (rg) .. controls (2120,700) and (2250,660) .. (sg);
\draw[conline] (rg) .. controls (2300,735) and (2450,752) .. (2600,763) .. controls (2680,765) and (2730,765) .. (mj);
\draw[conline] (sf) .. controls (2500,530) and (2550,533) .. (2600,535) .. controls (2700,548) and (2880,590) .. (me);
\draw[conline] (sc) .. controls (2500,400) and (2550,385) .. (jn);
\draw[conline] (sd) .. controls (2510,450) and (2560,420) .. (jn);
\draw[conline] (se) .. controls (2510,465) and (2580,410) .. (jn);
\draw[conthick] (jn) -- (mb);
\draw[conline] (jn) .. controls (2750,372) and (2880,400) .. (gc);
\draw[conline] (jn) .. controls (2750,375) and (2880,420) .. (gd);
\draw[conline] (si) .. controls (2460,740) and (2540,700) .. (2600,672) .. controls (2680,630) and (2850,570) .. (ge);
\draw[conline] (sh) .. controls (2200,800) and (2050,960) .. (1950,1150) .. controls (1880,1300) and (1840,1500) .. (h3t);
\draw[conline] (tg) .. controls (2200,1125) and (2040,1190) .. (1950,1300) .. controls (1880,1400) and (1835,1560) .. (h3t);
\draw[conline] (h3t) .. controls (1830,1400) and (1860,1150) .. (vd);
\draw[conline] (h3t) .. controls (1840,1540) and (1880,1450) .. (wc);
\draw[conline] (h3t) .. controls (1825,1200) and (1890,700) .. (re);
\draw[conline] (h3t) .. controls (1822,1100) and (1850,400) .. (ff);
\draw[conline] (h3t) .. controls (1826,1000) and (1870,400) .. (fg);
\draw[conline] (h3t) .. controls (1850,1300) and (2100,950) .. (tb);
\draw[conline] (h3t) .. controls (1870,1610) and (1950,1625) .. (2150,1620) .. controls (2300,1615) and (2450,1610) .. (2600,1606) .. controls (2750,1603) and (2880,1600) .. (gj);
\draw[conline] (xc) .. controls (2250,1530) and (2150,1560) .. (wd);
\draw[conline] (xc) .. controls (2280,1530) and (2180,1590) .. (we);
\draw[conline] (wa) .. controls (2230,1420) and (2370,950) .. (ky);
\draw[conline] (wb) .. controls (2250,1440) and (2360,1050) .. (ky);
\draw[conline] (wd) .. controls (2250,1560) and (2350,1100) .. (ky);
\draw[conline] (we) .. controls (2230,1600) and (2340,1100) .. (ky);
\draw[conline] (va) .. controls (2200,1110) and (2330,950) .. (ky);
\draw[conline] (vb) .. controls (2180,1130) and (2260,1118) .. (tg);
\draw[conline] (vc) .. controls (2200,1180) and (2350,1170) .. (th) .. controls (2500,1152) and (2550,1148) .. (2600,1145) .. controls (2700,1115) and (2880,1010) .. (mf);
\draw[conline] (vc) .. controls (2180,1160) and (2280,1130) .. (tg);
\draw[conline] (tf) .. controls (2450,1112) and (2530,1125) .. (2600,1116) .. controls (2700,1085) and (2880,1000) .. (mf);
\draw[conline] (td) .. controls (2500,934) and (2550,933) .. (2600,932) .. controls (2700,930) and (2880,925) .. (mf);
\draw[conline] (xd) .. controls (2520,1560) and (2560,1545) .. (2600,1531) .. controls (2700,1490) and (2880,1200) .. (mf);
\draw[conline] (xb) .. controls (2470,1515) and (2560,1510) .. (2600,1494) .. controls (2700,1450) and (2880,1150) .. (mf);
\draw[conline] (gl) .. controls (2813,1640) and (2900,1300) .. (mf);
\draw[conline] (tc) .. controls (2380,920) and (2290,980) .. (mc);
\draw[conline] (si) .. controls (2360,900) and (2280,990) .. (mc);
\draw[conline] (ky) -- (gp);
\draw[conthick] (ky) -- (si);
\draw[conline] (ky) .. controls (2440,800) and (2480,1200) .. (gq);
\draw[conthick] (ky) .. controls (2450,850) and (2510,1300) .. (gr);
\draw[conline] (ky) .. controls (2345,800) and (2335,900) .. (tg);
\foreach \ya/\yb/\yc in {1033/1188/1335,1044/1211/1355,1053/1220/1375,1064/1237/1390,1076/1255/1405,1085/1272/1420,1096/1292/1440}{
 \draw[conline] (ky) .. controls (2425,760) and (2480,{\ya-130}) .. (2600,\ya) .. controls (2660,{\ya+50}) and (2720,{\yb-45}) .. (2780,\yb) .. controls (2850,{\yb+45}) and (2920,{\yc-30}) .. (2990,\yc);}
\draw[conline] (h3r) .. controls (1950,1670) and (2020,1668) .. (yb) .. controls (2300,1665) and (2450,1670) .. (2600,1670) .. controls (2750,1670) and (2880,1670) .. (gk);
\draw[conline] (ya) .. controls (2208,1636) and (2225,1633) .. (xd3);
\draw[conline] (yb) -- (ya);
\draw[conline] (h3b) .. controls (1825,1740) and (1830,1760) .. (gn);
\draw[conline] (h3b) .. controls (1830,1740) and (1850,1765) .. (go);
% QSG
\draw[conline] (fj) .. controls (2867,230) and (2933,400) .. (me);
\draw[conline] (fj) .. controls (2867,172) and (2950,345) .. (me);
\draw[conline] (fk) .. controls (2925,180) and (2950,400) .. (me);
\draw[conline] (qa) -- (gf);
\draw[conline] (qd) -- (gg);
\draw[conline] (qe) -- (gh);
\draw[conline] (qg) -- (gi);
\draw[conline] (qb) -- (qc);
\draw[conthick] (qc) -- (me);
\draw[conline] (me) -- (qf) -- (mf);
\draw[conthick] (mf) -- (qh) -- (qi) -- (qj) -- (qk) -- (ql) -- (qm) -- (qn) -- (qo);
\draw[conthick] (qi) .. controls (2968,1400) and (2972,1600) .. (gm);
% chevrons
\chev{kp}{0}\chev{kq}{-90}\chev{kr}{-90}\chev{ks}{-90}\chev{kt}{-90}\chev{ku}{-90}\chev{kv}{-90}
\chev{kw}{-90}\chev{kx}{-90}\chev{ky}{90}\chev{kz}{-90}\chev{ma}{90}\chev{mb}{180}\chev{mc}{180}
\chev{md}{-90}\chev{me}{-90}\chev{mf}{-90}\chev{mg}{-90}\chev{mh}{-90}\chev{mi}{-90}\chev{mj}{0}
% icons over connectors
\fill[blu] (0,168) rectangle (49,216);
\begin{scope}[shift={(24.5,192)}]
 \draw[white,line width=0.55pt,rounded corners=0.8pt] (-11,-12) rectangle (11,12);
 \draw[white,line width=0.55pt] (-11,-7) -- (11,-7);
 \draw[white,line width=0.55pt,line join=round] (-3,-1) -- (3,3) -- (-3,7) -- cycle;
\end{scope}
\fill[blu] (780,1051) rectangle (825,1100);\addicon{802}{1075}
\fill[blu] (1800,1649) rectangle (1847,1697);\addicon{1823}{1673}
\node[handle] (nh2t) at (h2t) {};\node[handle] (nh2b) at (h2b) {};
\node[handle] (nh3t) at (h3t) {};\node[handle] (nh3b) at (h3b) {};\node[handle] (nh3r) at (h3r) {};
\xbox{1229}{1011}{1277}{1059}\xbox{2251}{1609}{2299}{1657}
\node[handle] (nxd2) at (xd2) {};\node[handle] (nxd3) at (xd3) {};
\foreach \nn in {s1,pa,pb,pc,pd,pe,ua,ub,uc,ud,ue,uf,ug,uh,ui,uj,uk,ul,um,un,uo,up,uq,la,lb,lc,cf,ra,rb,rc,rd,re,rf,rg,sa,sb,sc,sd,se,sf,sg,sh,si,ta,tb,tc,td,te,tf,tg,th,va,vb,vc,vd,wa,wb,wc,wd,we,xa,xb,xc,xd,ya,yb,qa,qb,qc,qd,qe,qf,qg,qh,qi,qj,qk,ql,qm,qn,qo}
 {\node[hub] (n\nn) at (\nn) {};}
\end{tikzpicture}
\end{document}
